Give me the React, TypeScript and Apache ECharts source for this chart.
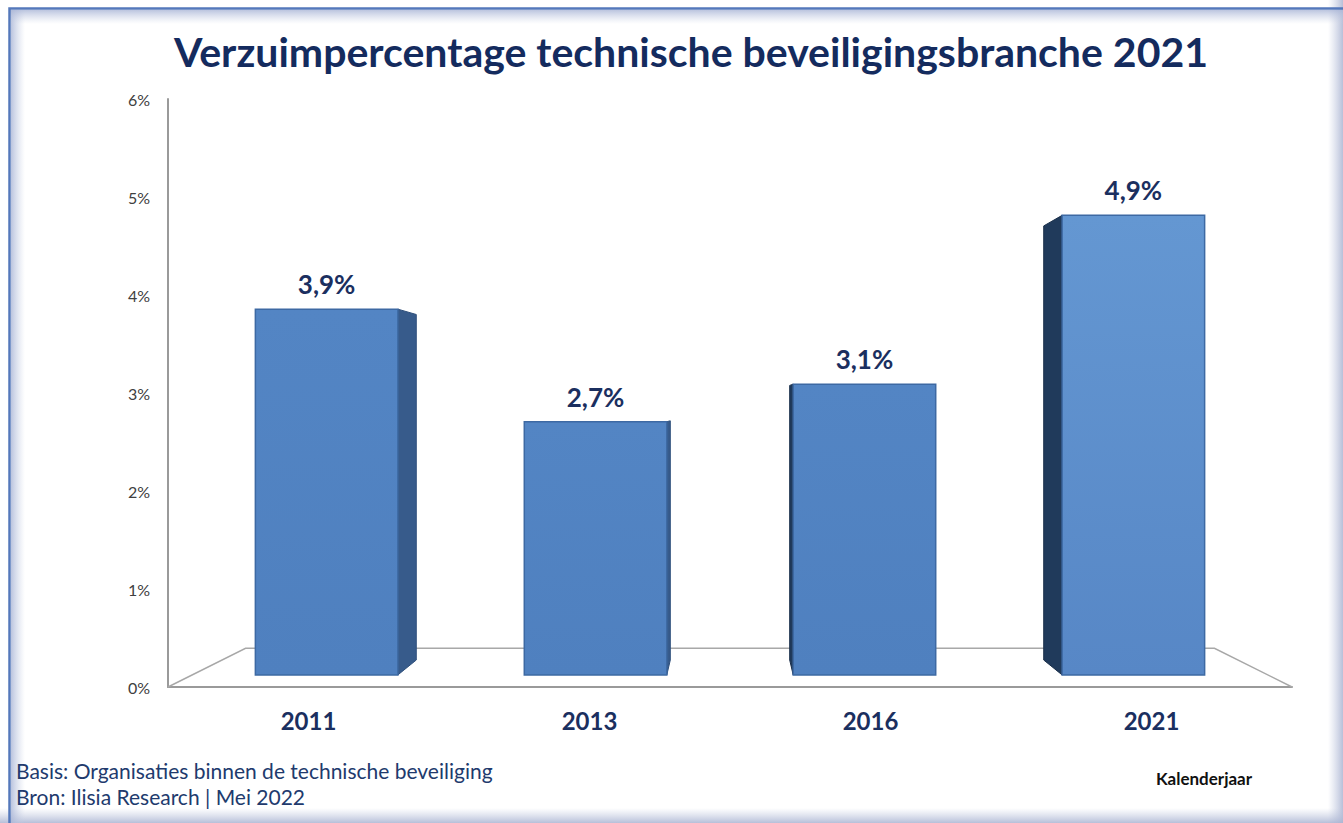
import React, { useEffect, useRef } from "react";
import * as echarts from "echarts";

const years: string[] = ["2011", "2013", "2016", "2021"];
const values: number[] = [3.9, 2.7, 3.1, 4.9];
const yMin = 0;
const yMax = 6;
const yStep = 1;

const titleText = "Verzuimpercentage technische beveiligingsbranche 2021";
const noteLines: string[] = [
  "Basis: Organisaties binnen de technische beveiliging",
  "Bron: Ilisia Research | Mei 2022",
];
const xAxisName = "Kalenderjaar";

// perspective parameters (style)
const FRONT_D = 0.957;
const BACK_D = 0.904;
const FLOOR_D = 0.862;
const VY_FRAC = 0.522;
const BAR_W = 0.53;

const NAVY = "#1b2f5f";
const FONT = "Lato, 'Open Sans', sans-serif";

const fmt = (v: number) => v.toFixed(1).replace(".", ",") + "%";

function renderBar(params: any, api: any) {
  const cs = params.coordSys;
  const vx = cs.x + cs.width / 2;
  const vy = cs.y + cs.height * VY_FRAC;
  const i = api.value(0);
  const v = api.value(1);
  const base = api.coord([i, 0]);
  const top = api.coord([i, v]);
  const bw = api.size([1, 0])[0] * BAR_W;
  const xl = base[0] - bw / 2;
  const xr = base[0] + bw / 2;
  const P = (x: number, y: number, d: number) => [vx + d * (x - vx), vy + d * (y - vy)];
  const leftSide = base[0] > vx;
  const farRight = base[0] - vx > cs.width * 0.25;
  const ex = leftSide ? xl : xr;
  const side = [P(ex, top[1], FRONT_D), P(ex, top[1], BACK_D), P(ex, base[1], BACK_D), P(ex, base[1], FRONT_D)];
  const front = [P(xl, top[1], FRONT_D), P(xr, top[1], FRONT_D), P(xr, base[1], FRONT_D), P(xl, base[1], FRONT_D)];
  const lab = P(base[0], top[1], FRONT_D);
  const frontFill = farRight
    ? new echarts.graphic.LinearGradient(0, 0, 0, 1, [
        { offset: 0, color: "#6497d2" },
        { offset: 1, color: "#5787c6" },
      ])
    : new echarts.graphic.LinearGradient(0, 0, 0, 1, [
        { offset: 0, color: "#5385c4" },
        { offset: 1, color: "#4f80bf" },
      ]);
  return {
    type: "group",
    children: [
      {
        type: "polygon",
        shape: { points: side },
        style: { fill: leftSide ? "#203a5b" : "#375b8b", stroke: leftSide ? "#1a2f4a" : "#2f507c", lineWidth: 1 },
      },
      {
        type: "polygon",
        shape: { points: front },
        style: { fill: frontFill, stroke: "#3d69a3", lineWidth: 1.5 },
      },
      {
        type: "text",
        x: lab[0],
        y: lab[1] - 25,
        style: {
          text: fmt(v),
          fill: NAVY,
          font: `bold 26px ${FONT}`,
          align: "center",
          verticalAlign: "middle",
        },
      },
    ],
  };
}

function renderFloor(params: any, api: any) {
  const cs = params.coordSys;
  const vx = cs.x + cs.width / 2;
  const vy = cs.y + cs.height * VY_FRAC;
  const P = (x: number, y: number, d: number) => [vx + d * (x - vx), vy + d * (y - vy)];
  const x0 = cs.x;
  const x1 = cs.x + cs.width;
  const yb = cs.y + cs.height;
  return {
    type: "polyline",
    shape: { points: [[x0, yb], P(x0, yb, FLOOR_D), P(x1, yb, FLOOR_D), [x1, yb]] },
    style: { stroke: "#a8a8a8", lineWidth: 1.5, fill: "none" },
  };
}

export default function App() {
  const ref = useRef<HTMLDivElement>(null);
  useEffect(() => {
    if (!ref.current) return;
    const chart = echarts.init(ref.current, null, { renderer: "svg" });
    chart.setOption({
      animation: false,
      backgroundColor: "#ffffff",
      grid: { left: 168, right: 51, top: 99, bottom: 136 },
      xAxis: {
        type: "category",
        data: years,
        axisLine: { lineStyle: { color: "#9a9a9a", width: 2 } },
        axisTick: { show: false },
        axisLabel: {
          color: NAVY,
          fontFamily: FONT,
          fontWeight: "bold",
          fontSize: 24,
          margin: 21,
        },
      },
      yAxis: {
        type: "value",
        min: yMin,
        max: yMax,
        interval: yStep,
        axisLine: { show: true, lineStyle: { color: "#9a9a9a", width: 2 } },
        axisTick: { show: false },
        splitLine: { show: false },
        axisLabel: {
          formatter: "{value}%",
          color: "#404040",
          fontFamily: FONT,
          fontSize: 16,
          margin: 18,
        },
      },
      series: [
        {
          type: "custom",
          z: 1,
          silent: true,
          renderItem: renderFloor,
          data: [[0, 0]],
        },
        {
          type: "custom",
          z: 2,
          silent: true,
          renderItem: renderBar,
          data: values.map((v, i) => [i, v]),
        },
      ],
      graphic: [
        // frame shading
        {
          type: "rect",
          shape: { x: 1328, y: 0, width: 15, height: 823 },
          style: {
            fill: new echarts.graphic.LinearGradient(0, 0, 1, 0, [
              { offset: 0, color: "rgba(190,198,222,0)" },
              { offset: 1, color: "rgba(170,180,210,0.85)" },
            ]),
          },
          silent: true,
        },
        {
          type: "rect",
          shape: { x: 0, y: 808, width: 1343, height: 15 },
          style: {
            fill: new echarts.graphic.LinearGradient(0, 0, 0, 1, [
              { offset: 0, color: "rgba(190,198,222,0)" },
              { offset: 1, color: "rgba(170,180,210,0.85)" },
            ]),
          },
          silent: true,
        },
        {
          type: "rect",
          shape: { x: 11, y: 10, width: 14, height: 813 },
          style: {
            fill: new echarts.graphic.LinearGradient(0, 0, 1, 0, [
              { offset: 0, color: "rgba(170,182,215,0.8)" },
              { offset: 1, color: "rgba(200,208,228,0)" },
            ]),
          },
          silent: true,
        },
        {
          type: "rect",
          shape: { x: 10, y: 10, width: 1333, height: 14 },
          style: {
            fill: new echarts.graphic.LinearGradient(0, 0, 0, 1, [
              { offset: 0, color: "rgba(170,182,215,0.8)" },
              { offset: 1, color: "rgba(200,208,228,0)" },
            ]),
          },
          silent: true,
        },
        {
          type: "polyline",
          shape: { points: [[9.5, 823], [9.5, 8.5], [1343, 8.5]] },
          style: { stroke: "#5478bb", lineWidth: 2.5, fill: "none" },
          silent: true,
        },
        {
          type: "text",
          x: 691,
          y: 51,
          style: {
            text: titleText,
            fill: "#142b5e",
            font: `bold 41px ${FONT}`,
            align: "center",
            verticalAlign: "middle",
          },
        },
        {
          type: "text",
          x: 16,
          y: 770,
          style: {
            text: noteLines[0],
            fill: "#213a6d",
            font: `21px ${FONT}`,
            align: "left",
            verticalAlign: "middle",
          },
        },
        {
          type: "text",
          x: 16,
          y: 796,
          style: {
            text: noteLines[1],
            fill: "#213a6d",
            font: `21px ${FONT}`,
            align: "left",
            verticalAlign: "middle",
          },
        },
        {
          type: "text",
          x: 1204,
          y: 778,
          style: {
            text: xAxisName,
            fill: "#111111",
            font: `bold 17px ${FONT}`,
            align: "center",
            verticalAlign: "middle",
          },
        },
      ],
    });
    return () => chart.dispose();
  }, []);
  return (
    <div
      ref={ref}
      style={{ position: "fixed", left: 0, top: 0, width: 1343, height: 823, background: "#fff" }}
    />
  );
}
